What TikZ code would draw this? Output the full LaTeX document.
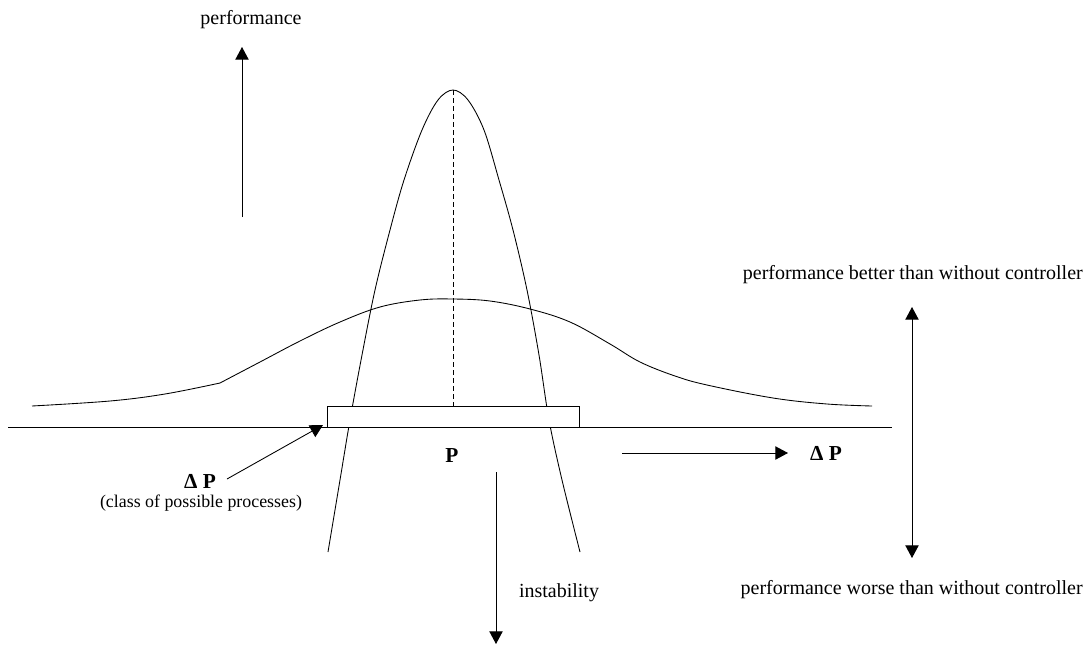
\documentclass[tikz,border=0pt]{standalone}
\usepackage{fontspec}
\setmainfont{Liberation Serif}
\usetikzlibrary{arrows.meta}
\begin{document}
\begin{tikzpicture}[x=0.75pt,y=-0.75pt,
  thinline/.style={line width=0.65pt,black},
  arr/.style={thinline,-{Triangle[length=9.5pt,width=10pt]}},
  dbl/.style={thinline,{Triangle[length=9.5pt,width=10pt]}-{Triangle[length=9.5pt,width=10pt]}},
  lbl/.style={inner sep=0pt,font=\fontsize{15}{17}\selectfont},
  small/.style={inner sep=0pt,font=\fontsize{13.4}{15}\selectfont},
  bold/.style={inner sep=0pt,font=\fontsize{16}{18}\selectfont\bfseries}]
\useasboundingbox (0,0) rectangle (1088,646);
% axis line
\coordinate (bl) at (8,427);
\coordinate (br) at (892,427);
\draw[thinline] (bl) -- (br);
% wide bell
\draw[thinline] plot[smooth,tension=0.6] coordinates {(32,406) (110,401) (165,394) (220,383)};
\draw[thinline] plot[smooth,tension=0.6] coordinates {(220,383) (260,362) (300,341) (340,322) (380,307) (420,300) (453,299) (490,301) (530,309) (570,322) (610,344) (640,362) (675,376) (707,385) (773,398) (827,404) (872,406)};
% narrow curve
\draw[thinline] plot[smooth,tension=0.55] coordinates {(328,552) (340,480) (350,420) (362,355) (375,290) (390,230) (404,180) (422,130) (438,100) (453,90) (468,100) (484,130) (499,180) (513,230) (527,290) (539,355) (549,420) (562,480) (580,552)};
% class box
\node[draw,thinline,fill=white,minimum width=189pt,minimum height=15.75pt,inner sep=0pt,outer sep=0pt] (box) at (453,416.5) {};
\coordinate (peak) at (453,90);
\draw[thinline,dash pattern=on 4pt off 2pt] (peak) -- (box.north);
% performance axis
\node[lbl] (perf) at (251,20) {performance};
\coordinate (pa1) at (242,217);
\coordinate (pa2) at (242,47);
\draw[arr] (pa1) -- (pa2);
% Delta P left
\node[bold] (dpl) at (200,481) {Δ P};
\node[small] (cls) at (201,503) {(class of possible processes)};
\coordinate (dps) at (227,479);
\coordinate (dpt) at (323,425);
\draw[arr] (dps) -- (dpt);
% P
\node[bold] (p) at (452,456) {P};
% Delta P right
\coordinate (ha1) at (622,453);
\coordinate (ha2) at (788,453);
\draw[arr] (ha1) -- (ha2);
\node[bold] (dpr) at (826,453) {Δ P};
% instability
\coordinate (ia1) at (496,472);
\coordinate (ia2) at (496,644);
\draw[arr] (ia1) -- (ia2);
\node[lbl] (inst) at (559,593) {instability};
% right double arrow
\coordinate (da1) at (912,307);
\coordinate (da2) at (912,558);
\draw[dbl] (da1) -- (da2);
\node[lbl,anchor=east] (better) at (1083,275) {performance better than without controller};
\node[lbl,anchor=east] (worse) at (1083,590) {performance worse than without controller};
\end{tikzpicture}
\end{document}
